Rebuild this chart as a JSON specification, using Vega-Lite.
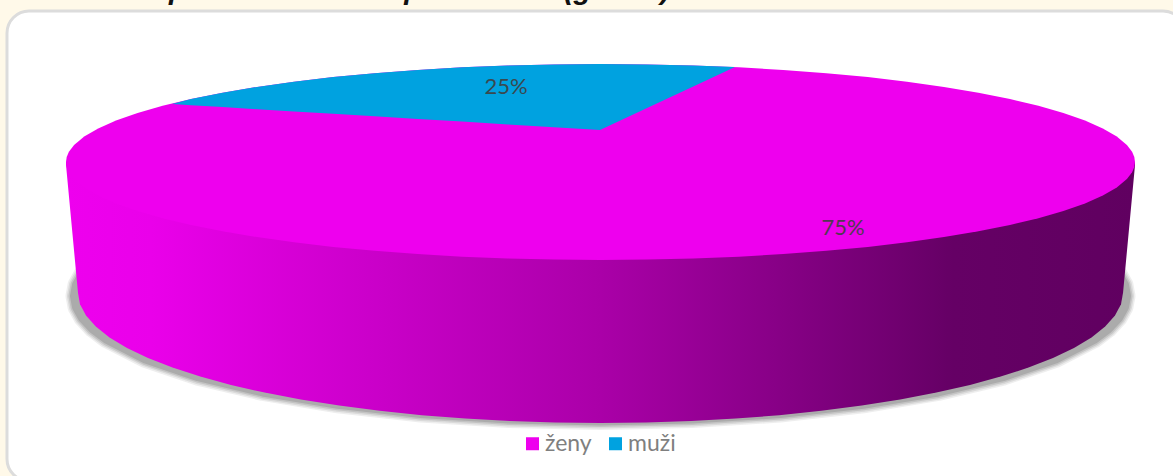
{
  "$schema": "https://vega.github.io/schema/vega-lite/v6.json",
  "width": 1173,
  "height": 476,
  "padding": 0,
  "autosize": "none",
  "background": "#FFF9E9",
  "view": {"stroke": null},
  "datasets": {
    "frame": [{"x": 7, "x2": 1185, "y": 11, "y2": 481}],
    "shadow": [
      {"i":0,"x":93.4,"y":264},{"i":1,"x":83.5,"y":274.5},{"i":2,"x":77.5,"y":285.2},{"i":3,"x":75.5,"y":296},{"i":4,"x":77.5,"y":306.8},{"i":5,"x":83.5,"y":317.5},{"i":6,"x":93.4,"y":328.1},{"i":7,"x":107.2,"y":338.4},{"i":8,"x":145.8,"y":358},{"i":9,"x":198.3,"y":375.7},{"i":10,"x":263,"y":391},{"i":11,"x":338,"y":403.4},{"i":12,"x":421,"y":412.5},{"i":13,"x":509.3,"y":418.1},{"i":14,"x":600.5,"y":420},{"i":15,"x":691.7,"y":418.1},{"i":16,"x":780,"y":412.5},{"i":17,"x":863,"y":403.4},{"i":18,"x":938,"y":391},{"i":19,"x":1002.7,"y":375.7},{"i":20,"x":1055.2,"y":358},{"i":21,"x":1093.8,"y":338.4},{"i":22,"x":1107.6,"y":328.1},{"i":23,"x":1117.5,"y":317.5},{"i":24,"x":1123.5,"y":306.8},{"i":25,"x":1125.5,"y":296},{"i":26,"x":1123.5,"y":285.2},{"i":27,"x":1117.5,"y":274.5},{"i":28,"x":1107.6,"y":264}
    ],
    "side": [
      {"x":66,"y":165,"y2":162},{"x":78,"y":293,"y2":162},{"x":80,"y":304.3,"y2":162},{"x":86,"y":315.6,"y2":162},{"x":95.8,"y":326.6,"y2":162},{"x":109.5,"y":337.5,"y2":162},{"x":127,"y":348,"y2":162},{"x":148,"y":358,"y2":162},{"x":172.5,"y":367.6,"y2":162},{"x":200.3,"y":376.6,"y2":162},{"x":231,"y":385,"y2":162},{"x":264.6,"y":392.6,"y2":162},{"x":300.8,"y":399.5,"y2":162},{"x":339.2,"y":405.6,"y2":162},{"x":379.7,"y":410.8,"y2":162},{"x":421.8,"y":415.2,"y2":162},{"x":465.3,"y":418.6,"y2":162},{"x":509.8,"y":421,"y2":162},{"x":555,"y":422.5,"y2":162},{"x":600.5,"y":423,"y2":162},{"x":646,"y":422.5,"y2":162},{"x":691.2,"y":421,"y2":162},{"x":735.7,"y":418.6,"y2":162},{"x":779.2,"y":415.2,"y2":162},{"x":821.3,"y":410.8,"y2":162},{"x":861.8,"y":405.6,"y2":162},{"x":900.2,"y":399.5,"y2":162},{"x":936.4,"y":392.6,"y2":162},{"x":970,"y":385,"y2":162},{"x":1000.7,"y":376.6,"y2":162},{"x":1028.5,"y":367.6,"y2":162},{"x":1053,"y":358,"y2":162},{"x":1074,"y":348,"y2":162},{"x":1091.5,"y":337.5,"y2":162},{"x":1105.2,"y":326.6,"y2":162},{"x":1115,"y":315.6,"y2":162},{"x":1121,"y":304.3,"y2":162},{"x":1123,"y":293,"y2":162},{"x":1135,"y":165,"y2":162}
    ],
    "faces": [
      {"category":"ženy","x":66,"y":162,"y2":162},{"category":"ženy","x":66.7,"y":156.9,"y2":167.1},{"category":"ženy","x":68.9,"y":151.8,"y2":172.2},{"category":"ženy","x":74.1,"y":145,"y2":179},{"category":"ženy","x":84.2,"y":136.6,"y2":187.4},{"category":"ženy","x":98.2,"y":128.5,"y2":195.5},{"category":"ženy","x":116,"y":120.6,"y2":203.4},{"category":"ženy","x":137.6,"y":113,"y2":211},{"category":"ženy","x":162.6,"y":105.8,"y2":218.2},{"category":"ženy","x":191,"y":99,"y2":225},{"category":"ženy","x":222.6,"y":92.7,"y2":231.3},{"category":"ženy","x":257,"y":86.9,"y2":237.1},{"category":"ženy","x":294,"y":81.7,"y2":242.3},{"category":"ženy","x":333.2,"y":77.1,"y2":246.9},{"category":"ženy","x":374.6,"y":73.2,"y2":250.8},{"category":"ženy","x":417.7,"y":69.9,"y2":254.1},{"category":"ženy","x":462.2,"y":67.3,"y2":256.7},{"category":"ženy","x":507.7,"y":65.5,"y2":258.5},{"category":"ženy","x":553.9,"y":64.4,"y2":259.6},{"category":"ženy","x":600.5,"y":64,"y2":260},{"category":"ženy","x":647.1,"y":64.4,"y2":259.6},{"category":"ženy","x":693.3,"y":65.5,"y2":258.5},{"category":"ženy","x":738.8,"y":67.3,"y2":256.7},{"category":"ženy","x":783.3,"y":69.9,"y2":254.1},{"category":"ženy","x":826.4,"y":73.2,"y2":250.8},{"category":"ženy","x":867.8,"y":77.1,"y2":246.9},{"category":"ženy","x":907,"y":81.7,"y2":242.3},{"category":"ženy","x":944,"y":86.9,"y2":237.1},{"category":"ženy","x":978.4,"y":92.7,"y2":231.3},{"category":"ženy","x":1010,"y":99,"y2":225},{"category":"ženy","x":1038.4,"y":105.8,"y2":218.2},{"category":"ženy","x":1063.4,"y":113,"y2":211},{"category":"ženy","x":1085,"y":120.6,"y2":203.4},{"category":"ženy","x":1102.8,"y":128.5,"y2":195.5},{"category":"ženy","x":1116.8,"y":136.6,"y2":187.4},{"category":"ženy","x":1126.9,"y":145,"y2":179},{"category":"ženy","x":1132.1,"y":151.8,"y2":172.2},{"category":"ženy","x":1134.3,"y":156.9,"y2":167.1},{"category":"ženy","x":1135,"y":162,"y2":162},
      {"category":"muži","x":172,"y":104,"y2":104},{"category":"muži","x":191,"y":99,"y2":105.2},{"category":"muži","x":222.6,"y":92.7,"y2":107},{"category":"muži","x":257,"y":86.9,"y2":109.2},{"category":"muži","x":294,"y":81.7,"y2":111.4},{"category":"muži","x":333.2,"y":77.1,"y2":113.8},{"category":"muži","x":374.6,"y":73.2,"y2":116.3},{"category":"muži","x":417.7,"y":69.9,"y2":118.9},{"category":"muži","x":462.2,"y":67.3,"y2":121.6},{"category":"muži","x":507.7,"y":65.5,"y2":124.4},{"category":"muži","x":553.9,"y":64.4,"y2":127.2},{"category":"muži","x":600,"y":64,"y2":130},{"category":"muži","x":647.1,"y":64.4,"y2":108},{"category":"muži","x":693.3,"y":65.5,"y2":86.5},{"category":"muži","x":735,"y":67,"y2":67}
    ],
    "labels": [
      {"category":"ženy","value":75,"label":"75%","x":843,"y":228},
      {"category":"muži","value":25,"label":"25%","x":506,"y":87}
    ],
    "title": [{"text":"Rozdělení pohlaví v oblasti prezentace (graf č.)","x":24,"y":-1}]
  },
  "data": {"name": "faces"},
  "encoding": {
    "x": {"field": "x", "type": "quantitative", "scale": {"domain": [0, 1173]}, "axis": null},
    "y": {"field": "y", "type": "quantitative", "scale": {"domain": [476, 0]}, "axis": null}
  },
  "layer": [
    {
      "data": {"name": "frame"},
      "mark": {"type": "rect", "fill": "white", "stroke": "#DCDCDC", "strokeWidth": 3, "cornerRadius": 22},
      "encoding": {"x2": {"field": "x2"}, "y2": {"field": "y2"}}
    },
    {
      "data": {"name": "shadow"},
      "mark": {"type": "line", "color": "#555555", "strokeWidth": 20, "opacity": 0.1, "strokeCap": "round", "strokeJoin": "round"},
      "encoding": {"order": {"field": "i"}}
    },
    {
      "data": {"name": "shadow"},
      "mark": {"type": "line", "color": "#555555", "strokeWidth": 17, "opacity": 0.13, "strokeCap": "round", "strokeJoin": "round"},
      "encoding": {"order": {"field": "i"}}
    },
    {
      "data": {"name": "shadow"},
      "mark": {"type": "line", "color": "#555555", "strokeWidth": 14, "opacity": 0.17, "strokeCap": "round", "strokeJoin": "round"},
      "encoding": {"order": {"field": "i"}}
    },
    {
      "data": {"name": "shadow"},
      "mark": {"type": "line", "color": "#555555", "strokeWidth": 11, "opacity": 0.22, "strokeCap": "round", "strokeJoin": "round"},
      "encoding": {"order": {"field": "i"}}
    },
    {
      "data": {"name": "side"},
      "mark": {
        "type": "area",
        "color": {
          "gradient": "linear", "x1": 0, "x2": 1, "y1": 0, "y2": 0,
          "stops": [
            {"offset": 0, "color": "#EE00EE"},
            {"offset": 0.08, "color": "#EA00EA"},
            {"offset": 0.5, "color": "#AA00A8"},
            {"offset": 0.83, "color": "#650065"},
            {"offset": 1, "color": "#600060"}
          ]
        }
      },
      "encoding": {
        "y": {"field": "y", "type": "quantitative", "stack": null},
        "y2": {"field": "y2"}
      }
    },
    {
      "mark": {"type": "area"},
      "encoding": {
        "y": {"field": "y", "type": "quantitative", "stack": null},
        "y2": {"field": "y2"},
        "color": {
          "field": "category", "type": "nominal",
          "scale": {"domain": ["ženy", "muži"], "range": ["#EE00EE", "#00A2E0"]},
          "legend": {
            "title": null, "orient": "none", "legendX": 521, "legendY": 432, "direction": "horizontal",
            "symbolType": "square", "symbolSize": 169, "symbolStrokeWidth": 0, "columnPadding": 12,
            "labelFont": "Lato", "labelFontSize": 23, "labelColor": "#7F7F7F", "labelOffset": 1,
            "encode": {"symbols": {"update": {"fill": {"signal": "datum.value === 'ženy' ? '#FF00FF' : '#00B0F0'"}, "opacity": {"value": 1}}}}
          }
        }
      }
    },
    {
      "data": {"name": "labels"},
      "mark": {"type": "text", "font": "Lato", "fontSize": 22, "color": "#404040", "opacity": 0.9},
      "encoding": {"text": {"field": "label"}}
    },
    {
      "data": {"name": "title"},
      "mark": {"type": "text", "font": "Liberation Sans", "fontSize": 29, "fontWeight": "bold", "fontStyle": "italic", "align": "left", "baseline": "alphabetic", "color": "#111111", "clip": false},
      "encoding": {"text": {"field": "text"}}
    }
  ]
}
